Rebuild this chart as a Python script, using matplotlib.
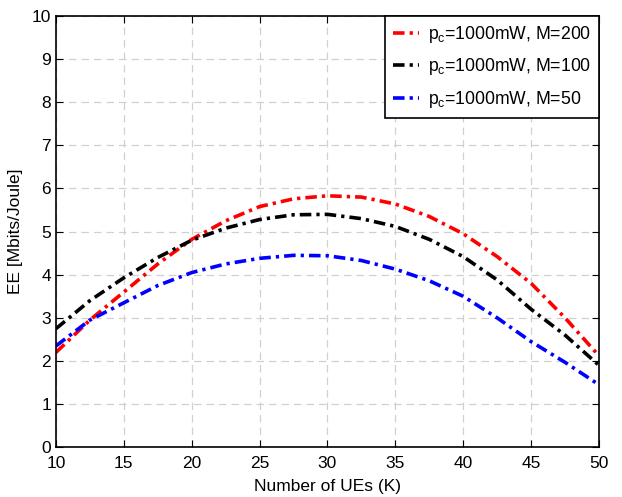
import matplotlib
matplotlib.use("Agg")
import matplotlib.pyplot as plt

plt.rcParams['font.family'] = ['Liberation Sans', 'DejaVu Sans']

K = [10, 12.5, 15, 17.5, 20, 22.5, 25, 27.5, 30, 32.5, 35, 37.5, 40, 42.5, 45, 47.5, 50]
ee_m200 = [2.2, 2.95, 3.6, 4.25, 4.82, 5.25, 5.58, 5.76, 5.83, 5.8, 5.64, 5.35, 4.95, 4.42, 3.8, 3.0, 2.12]
ee_m100 = [2.75, 3.4, 3.93, 4.4, 4.8, 5.08, 5.28, 5.39, 5.4, 5.3, 5.12, 4.82, 4.42, 3.88, 3.2, 2.6, 1.9]
ee_m50 = [2.35, 2.95, 3.35, 3.75, 4.05, 4.25, 4.38, 4.45, 4.44, 4.33, 4.13, 3.86, 3.5, 3.0, 2.45, 1.97, 1.45]

labels = [r'p$_\mathregular{c}$=1000mW, M=200',
          r'p$_\mathregular{c}$=1000mW, M=100',
          r'p$_\mathregular{c}$=1000mW, M=50']

fig = plt.figure(figsize=(6.22, 4.97), dpi=100)
ax = fig.add_axes([0.090, 0.100, 0.873, 0.868])

dashdot = (0, (3.2, 1.4, 0.9, 1.4))
ax.plot(K, ee_m200, color='red', lw=2.6, linestyle=dashdot, label=labels[0])
ax.plot(K, ee_m100, color='black', lw=2.6, linestyle=dashdot, label=labels[1])
ax.plot(K, ee_m50, color='blue', lw=2.6, linestyle=dashdot, label=labels[2])

ax.set_xlim(10, 50)
ax.set_ylim(0, 10)
ax.set_xticks(range(10, 51, 5))
ax.set_yticks(range(0, 11))
ax.tick_params(direction='in', top=True, right=True, labelsize=12.5, length=5)
ax.tick_params(axis='x', pad=6)
ax.grid(True, color='#d0d0d0', linestyle=(0, (6, 4)), linewidth=0.9)
for s in ax.spines.values():
    s.set_linewidth(1.2)

ax.set_xlabel('Number of UEs (K)', fontsize=12.5, labelpad=6)
ax.set_ylabel('EE [Mbits/Joule]', fontsize=12.5, labelpad=6)

leg = ax.legend(loc='upper right', fontsize=12.7, handlelength=1.5, handletextpad=0.5,
                borderaxespad=0, fancybox=False, edgecolor='black', framealpha=1,
                labelspacing=0.65, borderpad=0.45)
leg.get_frame().set_linewidth(1.2)

fig.savefig('out.png', dpi=100)
